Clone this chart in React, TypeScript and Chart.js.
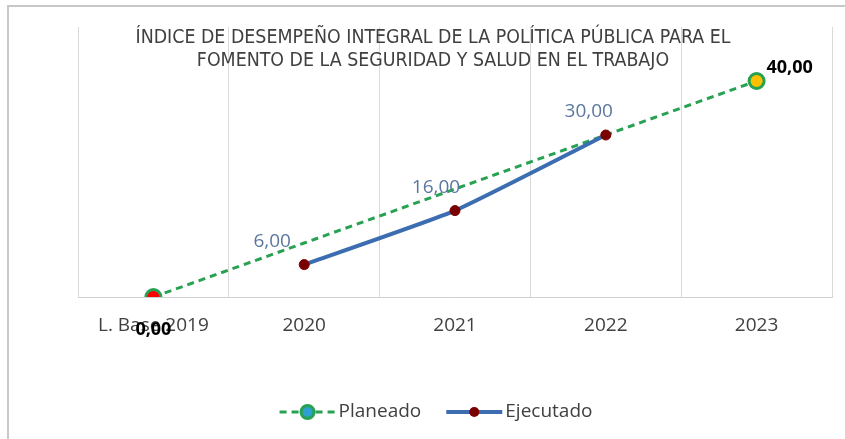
import React, { useEffect, useRef } from "react";
import { Chart, registerables } from "chart.js";

Chart.register(...registerables);

const categories = ["L. Base 2019", "2020", "2021", "2022", "2023"];
const planeado = [0, 10, 20, 30, 40];
const ejecutado: (number | null)[] = [null, 6, 16, 30, null];
const planeadoLabeled = [0, 4];
const seriesNames = ["Planeado", "Ejecutado"];
const titleLines = [
  "ÍNDICE DE DESEMPEÑO INTEGRAL DE LA POLÍTICA PÚBLICA PARA EL",
  "FOMENTO DE LA SEGURIDAD Y SALUD EN EL TRABAJO",
];

const GREEN = "#27A152";
const BLUE = "#3C6DB0";
const DARKRED = "#7A0000";
const LABEL_BLUE = "#5B77A0";
const TEXT = "#404040";
const FONT = "'Open Sans', 'Noto Sans', sans-serif";

const fmt = (v: number) => v.toFixed(2).replace(".", ",");

const frameTitlePlugin = {
  id: "frameTitle",
  beforeDraw(chart: any) {
    const ctx = chart.ctx;
    ctx.save();
    ctx.fillStyle = "#ffffff";
    ctx.fillRect(0, 0, chart.width, chart.height);
    ctx.strokeStyle = "#c8c8c8";
    ctx.lineWidth = 2;
    ctx.beginPath();
    ctx.moveTo(8, chart.height);
    ctx.lineTo(8, 6);
    ctx.lineTo(chart.width, 6);
    ctx.stroke();
    ctx.restore();
  },
  afterDraw(chart: any) {
    const ctx = chart.ctx;
    ctx.save();
    ctx.fillStyle = TEXT;
    ctx.textAlign = "center";
    ctx.textBaseline = "middle";
    ctx.font = "20px 'Liberation Sans Narrow', 'DejaVu Sans Condensed', " + FONT;
    const w0 = ctx.measureText(titleLines[0]).width;
    const s = Math.min(1, 595 / w0);
    titleLines.forEach((line, i) => {
      const w = ctx.measureText(line).width;
      ctx.fillText(line, 433, 38 + i * 23, w * s);
    });
    ctx.restore();
  },
};

const labelsPlugin = {
  id: "valueLabels",
  afterDatasetsDraw(chart: any) {
    const ctx = chart.ctx;
    ctx.save();
    ctx.textAlign = "center";
    ctx.textBaseline = "middle";
    // Planeado labels
    const m0 = chart.getDatasetMeta(0);
    ctx.font = "bold 18px " + FONT;
    ctx.fillStyle = "#000000";
    planeadoLabeled.forEach((i, k) => {
      const p = m0.data[i];
      const dx = k === 0 ? 0 : 33;
      const dy = k === 0 ? 33 : -13;
      ctx.fillText(fmt(planeado[i]), p.x + dx, p.y + dy);
    });
    // Ejecutado labels
    const m1 = chart.getDatasetMeta(1);
    ctx.font = "19px " + FONT;
    ctx.fillStyle = LABEL_BLUE;
    const offs = [0, -32, -19, -17, 0];
    ejecutado.forEach((v, i) => {
      if (v === null) return;
      const p = m1.data[i];
      ctx.fillText(fmt(v), p.x + offs[i], p.y - 23);
    });
    ctx.restore();
  },
};

const legendPlugin = {
  id: "customLegend",
  afterDraw(chart: any) {
    const ctx = chart.ctx;
    ctx.save();
    ctx.font = "19px " + FONT;
    ctx.textBaseline = "middle";
    ctx.textAlign = "left";
    const y = 412;
    const sample = 56;
    const gapText = 3;
    const gapItem = 25;
    const w1 = ctx.measureText(seriesNames[0]).width;
    const w2 = ctx.measureText(seriesNames[1]).width;
    const total = sample + gapText + w1 + gapItem + sample + gapText + w2;
    let x = 436 - total / 2;
    // Planeado
    ctx.strokeStyle = GREEN;
    ctx.lineWidth = 3;
    ctx.setLineDash([7, 5]);
    ctx.beginPath();
    ctx.moveTo(x, y);
    ctx.lineTo(x + sample, y);
    ctx.stroke();
    ctx.setLineDash([]);
    ctx.beginPath();
    ctx.arc(x + sample / 2, y, 6.5, 0, Math.PI * 2);
    ctx.fillStyle = "#2E9FD0";
    ctx.fill();
    ctx.lineWidth = 3;
    ctx.strokeStyle = GREEN;
    ctx.stroke();
    ctx.fillStyle = TEXT;
    ctx.fillText(seriesNames[0], x + sample + gapText, y);
    x += sample + gapText + w1 + gapItem;
    // Ejecutado
    ctx.strokeStyle = BLUE;
    ctx.lineWidth = 4;
    ctx.beginPath();
    ctx.moveTo(x, y);
    ctx.lineTo(x + sample, y);
    ctx.stroke();
    ctx.beginPath();
    ctx.arc(x + sample / 2, y, 5, 0, Math.PI * 2);
    ctx.fillStyle = DARKRED;
    ctx.fill();
    ctx.fillStyle = TEXT;
    ctx.fillText(seriesNames[1], x + sample + gapText, y);
    ctx.restore();
  },
};

export default function App() {
  const ref = useRef<HTMLCanvasElement | null>(null);
  useEffect(() => {
    if (!ref.current) return;
    const chart = new Chart(ref.current, {
      type: "line",
      data: {
        labels: categories,
        datasets: [
          {
            label: seriesNames[0],
            data: planeado,
            borderColor: GREEN,
            borderWidth: 3,
            borderDash: [7, 5],
            tension: 0,
            pointRadius: planeado.map((_, i) => (planeadoLabeled.includes(i) ? 7.5 : 0)),
            pointBackgroundColor: ["#FF0000", GREEN, GREEN, GREEN, "#FFC000"],
            pointBorderColor: GREEN,
            pointBorderWidth: 3,
            order: 2,
          },
          {
            label: seriesNames[1],
            data: ejecutado,
            borderColor: BLUE,
            borderWidth: 4,
            tension: 0.15,
            pointRadius: 5,
            pointBackgroundColor: DARKRED,
            pointBorderColor: DARKRED,
            pointBorderWidth: 1,
            order: 1,
          },
        ],
      },
      options: {
        animation: false,
        responsive: false,
        layout: { padding: { left: 78, right: 13, top: 27, bottom: 102 } },
        plugins: {
          legend: { display: false },
          title: { display: false },
          tooltip: { enabled: false },
        },
        scales: {
          x: {
            offset: true,
            afterFit: (scale: any) => {
              scale.height = 40;
            },
            grid: { offset: true, color: "#d9d9d9", lineWidth: 1, drawTicks: false },
            border: { color: "#d0d0d0", width: 1 },
            ticks: { color: TEXT, font: { family: FONT, size: 19 }, padding: 17, maxRotation: 0, autoSkip: false },
          },
          y: { display: false, min: 0, max: 50 },
        },
      },
      plugins: [frameTitlePlugin, labelsPlugin, legendPlugin],
    });
    return () => chart.destroy();
  }, []);
  return (
    <div style={{ position: "fixed", left: 0, top: 0, width: 845, height: 439, background: "#fff" }}>
      <canvas ref={ref} width={845} height={439} />
    </div>
  );
}
